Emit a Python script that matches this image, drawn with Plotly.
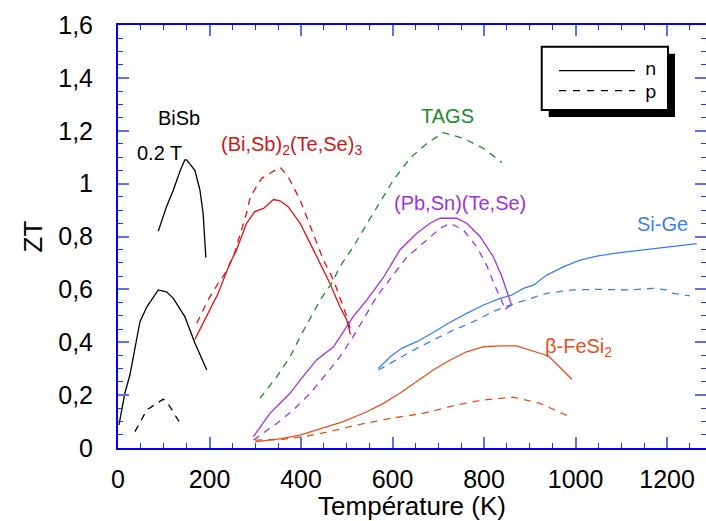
import plotly.graph_objects as go

# ---------------- data ----------------
bisb_n_T = [2, 15, 26, 37, 48, 63, 88, 106, 121, 146, 168, 194]
bisb_n_ZT = [0.087, 0.207, 0.276, 0.383, 0.478, 0.534, 0.598, 0.591, 0.566, 0.497, 0.397, 0.295]
bisb_p_T = [37, 63, 99, 110, 136]
bisb_p_ZT = [0.062, 0.144, 0.185, 0.166, 0.093]
bisb02_T = [88, 106, 121, 136, 146, 150, 168, 179, 186, 192]
bisb02_ZT = [0.82, 0.913, 0.976, 1.05, 1.09, 1.09, 1.05, 0.976, 0.888, 0.72]

bite_n_T = [168, 194, 219, 230, 245, 259, 281, 299, 318, 340, 354, 372, 398, 420, 442, 463, 485, 500, 508]
bite_n_ZT = [0.411, 0.497, 0.585, 0.635, 0.70, 0.749, 0.85, 0.894, 0.906, 0.94, 0.935, 0.913, 0.85, 0.774, 0.698, 0.623, 0.534, 0.484, 0.43]
bite_p_T = [172, 197, 223, 234, 252, 281, 289, 314, 354, 372, 398, 427, 449, 471, 485, 500, 511]
bite_p_ZT = [0.472, 0.56, 0.635, 0.66, 0.723, 0.888, 0.95, 1.02, 1.062, 1.026, 0.938, 0.812, 0.711, 0.635, 0.572, 0.497, 0.43]

tags_T = [310, 347, 376, 398, 442, 467, 485, 514, 558, 602, 638, 675, 711, 755, 799, 839]
tags_ZT = [0.188, 0.27, 0.345, 0.421, 0.56, 0.623, 0.686, 0.761, 0.888, 1.014, 1.096, 1.152, 1.193, 1.171, 1.133, 1.08]

pbsn_n_T = [296, 332, 376, 398, 434, 471, 514, 544, 580, 616, 653, 682, 704, 740, 762, 791, 820, 839, 860, 846]
pbsn_n_ZT = [0.043, 0.131, 0.207, 0.257, 0.333, 0.383, 0.497, 0.56, 0.645, 0.749, 0.812, 0.85, 0.869, 0.869, 0.85, 0.8, 0.724, 0.648, 0.541, 0.525]
pbsn_p_T = [296, 347, 383, 420, 456, 485, 514, 536, 565, 595, 630, 675, 704, 726, 755, 784, 806, 822, 846]
pbsn_p_ZT = [0.03, 0.093, 0.144, 0.207, 0.282, 0.345, 0.421, 0.484, 0.572, 0.64, 0.72, 0.787, 0.831, 0.85, 0.824, 0.761, 0.69, 0.62, 0.528]

sige_n_T = [569, 595, 620, 653, 686, 722, 762, 799, 835, 860, 886, 908, 937, 974, 1010, 1046, 1097, 1141, 1200, 1265]
sige_n_ZT = [0.301, 0.345, 0.377, 0.402, 0.434, 0.472, 0.509, 0.541, 0.566, 0.578, 0.604, 0.616, 0.654, 0.686, 0.711, 0.726, 0.739, 0.749, 0.76, 0.773]
sige_p_T = [569, 609, 653, 697, 733, 777, 820, 850, 893, 937, 995, 1046, 1119, 1170, 1199, 1214, 1250]
sige_p_ZT = [0.295, 0.333, 0.377, 0.415, 0.446, 0.478, 0.516, 0.537, 0.562, 0.585, 0.598, 0.6, 0.598, 0.604, 0.598, 0.585, 0.575]

fesi_n_T = [300, 347, 398, 434, 492, 544, 580, 616, 653, 689, 726, 762, 799, 835, 871, 941, 992]
fesi_n_ZT = [0.024, 0.033, 0.049, 0.068, 0.1, 0.137, 0.169, 0.207, 0.251, 0.295, 0.333, 0.364, 0.383, 0.386, 0.386, 0.348, 0.26]
fesi_p_T = [300, 361, 412, 463, 522, 595, 667, 740, 799, 835, 864, 922, 984]
fesi_p_ZT = [0.03, 0.033, 0.045, 0.062, 0.087, 0.112, 0.131, 0.163, 0.182, 0.188, 0.192, 0.169, 0.121]

x_tickvals = [0, 200, 400, 600, 800, 1000, 1200]
x_ticktext = ["0", "200", "400", "600", "800", "1000", "1200"]
y_tickvals = [0, 0.2, 0.4, 0.6, 0.8, 1.0, 1.2, 1.4, 1.6]
y_ticktext = ["0", "0,2", "0,4", "0,6", "0,8", "1", "1,2", "1,4", "1,6"]

labels = ["BiSb", "0.2 T", "(Bi,Sb)<sub>2</sub>(Te,Se)<sub>3</sub>", "TAGS",
          "(Pb,Sn)(Te,Se)", "Si-Ge", "β-FeSi<sub>2</sub>"]
legend_labels = ["n", "p"]

# ---------------- styles ----------------
BLACK = "#000000"
RED = "#e01010"
RED_TXT = "#c81818"
GREEN = "#1a8a2a"
PURPLE = "#a030e0"
BLUE = "#3a7ff0"
ORANGE = "#e4501c"
FONT = "Arial, Liberation Sans, sans-serif"
DASH = "7px,6px"
LW = 1.3

fig = go.Figure()

def add(x, y, color, dashed):
    fig.add_trace(go.Scatter(x=x, y=y, mode="lines", showlegend=False, hoverinfo="skip",
                             line=dict(color=color, width=LW, dash=DASH if dashed else "solid")))

add(bisb_n_T, bisb_n_ZT, BLACK, False)
add(bisb_p_T, bisb_p_ZT, BLACK, True)
add(bisb02_T, bisb02_ZT, BLACK, False)
add(bite_n_T, bite_n_ZT, RED, False)
add(bite_p_T, bite_p_ZT, RED, True)
add(tags_T, tags_ZT, GREEN, True)
add(pbsn_n_T, pbsn_n_ZT, PURPLE, False)
add(pbsn_p_T, pbsn_p_ZT, PURPLE, True)
add(sige_n_T, sige_n_ZT, BLUE, False)
add(sige_p_T, sige_p_ZT, BLUE, True)
add(fesi_n_T, fesi_n_ZT, ORANGE, False)
add(fesi_p_T, fesi_p_ZT, ORANGE, True)

# curve labels
label_pos = [
    (133, 1.248, BLACK, "center"),
    (90, 1.116, BLACK, "center"),
    (221, 1.146, RED_TXT, "left"),
    (721, 1.256, GREEN, "center"),
    (598, 0.927, PURPLE, "left"),
    (1191, 0.847, BLUE, "center"),
    (929, 0.382, ORANGE, "left"),
]
for txt, (x, y, c, anc) in zip(labels, label_pos):
    fig.add_annotation(x=x, y=y, xref="x", yref="y", text=txt, showarrow=False,
                       xanchor=anc, yanchor="middle", font=dict(family=FONT, size=20, color=c))

# legend box (drawn)
shapes = [
    dict(type="rect", xref="paper", yref="paper", x0=0.7325, x1=0.9473, y0=0.7825, y1=0.9322,
         fillcolor="black", line=dict(width=0)),
    dict(type="rect", xref="paper", yref="paper", x0=0.7206, x1=0.9354, y0=0.7991, y1=0.9487,
         fillcolor="white", line=dict(color="black", width=2)),
    dict(type="line", xref="paper", yref="paper", x0=0.75, x1=0.8793, y0=0.892, y1=0.892,
         line=dict(color="black", width=1.3)),
    dict(type="line", xref="paper", yref="paper", x0=0.75, x1=0.8793, y0=0.8447, y1=0.8447,
         line=dict(color="black", width=1.3, dash="7px,7px")),
]
fig.update_layout(shapes=shapes)
for txt, yy in zip(legend_labels, [0.896, 0.842]):
    fig.add_annotation(x=0.905, y=yy, xref="paper", yref="paper", text=txt, showarrow=False,
                       xanchor="center", yanchor="middle",
                       font=dict(family="DejaVu Sans, sans-serif", size=18, color="black"))

axis_common = dict(
    showline=True, linecolor="#0000ff", linewidth=2, mirror="allticks",
    ticks="inside", ticklen=11, tickwidth=1.5, tickcolor="#6070e8",
    showgrid=False, zeroline=False, automargin=False,
    tickfont=dict(family=FONT, size=25, color="black"),
)
fig.update_xaxes(**axis_common, range=[0, 1285], tickmode="array", tickvals=x_tickvals, ticktext=x_ticktext,
                 minor=dict(ticks="inside", ticklen=5, tickwidth=1.2, tickcolor="#2030ff", dtick=50, showgrid=False),
                 ticklabelstandoff=8,
                 title=dict(text="Température (K)", font=dict(family=FONT, size=26, color="black"), standoff=0))
fig.update_yaxes(**axis_common, range=[0, 1.6], tickmode="array", tickvals=y_tickvals, ticktext=y_ticktext,
                 minor=dict(ticks="inside", ticklen=5, tickwidth=1.2, tickcolor="#2030ff", dtick=0.05, showgrid=False),
                 ticklabelstandoff=18,
                 title=dict(text="ZT", font=dict(family=FONT, size=26, color="black"), standoff=8))

fig.update_layout(
    width=706, height=521,
    margin=dict(l=118, r=0, t=25, b=73),
    plot_bgcolor="white", paper_bgcolor="white",
    showlegend=False,
)

fig.write_html("out.html", config={"displayModeBar": False},
               post_script="document.body.style.margin='0';document.body.style.overflow='hidden';")
